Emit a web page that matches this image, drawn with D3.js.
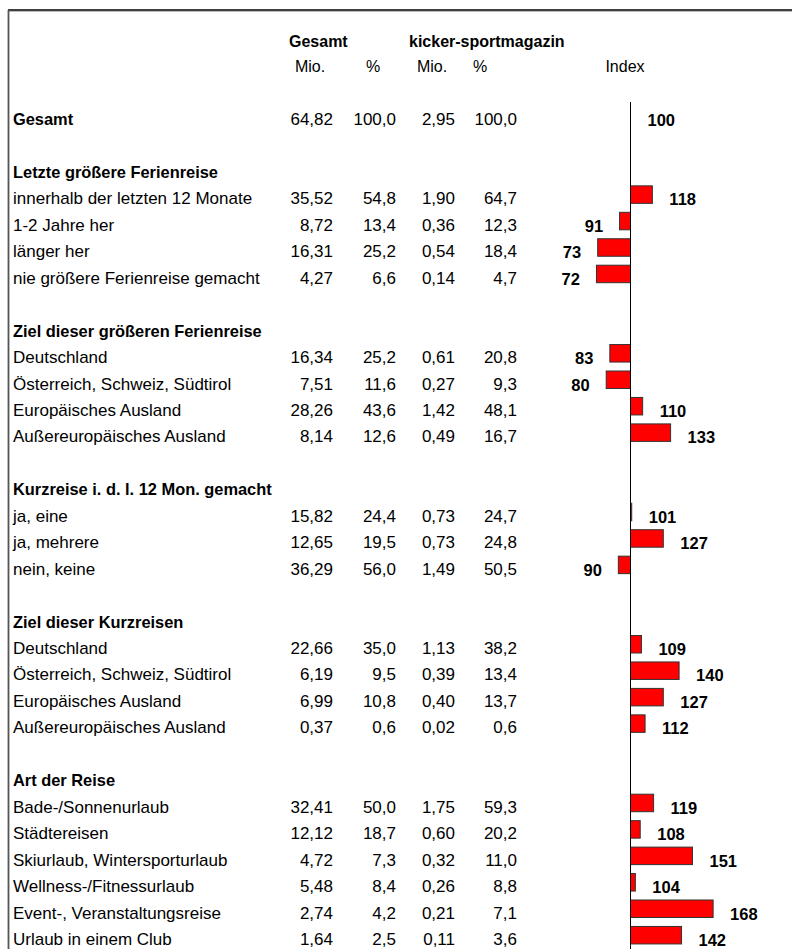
<!DOCTYPE html>
<html>
<head>
<meta charset="utf-8">
<script src="https://cdn.jsdelivr.net/npm/d3@7"></script>
<style>
  body { margin: 0; background: #fff; }
  text { font-family: "Liberation Sans", Arial, sans-serif; fill: #000; }
</style>
</head>
<body>
<div id="chart"></div>
<script>
// table rows (one per data line)
const categories = [
  "Gesamt",
  "innerhalb der letzten 12 Monate", "1-2 Jahre her", "länger her", "nie größere Ferienreise gemacht",
  "Deutschland", "Österreich, Schweiz, Südtirol", "Europäisches Ausland", "Außereuropäisches Ausland",
  "ja, eine", "ja, mehrere", "nein, keine",
  "Deutschland", "Österreich, Schweiz, Südtirol", "Europäisches Ausland", "Außereuropäisches Ausland",
  "Bade-/Sonnenurlaub", "Städtereisen", "Skiurlaub, Wintersporturlaub", "Wellness-/Fitnessurlaub",
  "Event-, Veranstaltungsreise", "Urlaub in einem Club"
];
const groupOf = [0, 1,1,1,1, 2,2,2,2, 3,3,3, 4,4,4,4, 5,5,5,5,5,5];
const groupTitles = [null, "Letzte größere Ferienreise", "Ziel dieser größeren Ferienreise",
  "Kurzreise i. d. l. 12 Mon. gemacht", "Ziel dieser Kurzreisen", "Art der Reise"];

const gesamtMio = [64.82, 35.52, 8.72, 16.31, 4.27, 16.34, 7.51, 28.26, 8.14, 15.82, 12.65, 36.29,
  22.66, 6.19, 6.99, 0.37, 32.41, 12.12, 4.72, 5.48, 2.74, 1.64];
const gesamtPct = [100.0, 54.8, 13.4, 25.2, 6.6, 25.2, 11.6, 43.6, 12.6, 24.4, 19.5, 56.0,
  35.0, 9.5, 10.8, 0.6, 50.0, 18.7, 7.3, 8.4, 4.2, 2.5];
const kickerMio = [2.95, 1.90, 0.36, 0.54, 0.14, 0.61, 0.27, 1.42, 0.49, 0.73, 0.73, 1.49,
  1.13, 0.39, 0.40, 0.02, 1.75, 0.60, 0.32, 0.26, 0.21, 0.11];
const kickerPct = [100.0, 64.7, 12.3, 18.4, 4.7, 20.8, 9.3, 48.1, 16.7, 24.7, 24.8, 50.5,
  38.2, 13.4, 13.7, 0.6, 59.3, 20.2, 11.0, 8.8, 7.1, 3.6];
const indexValues = [100, 118, 91, 73, 72, 83, 80, 110, 133, 101, 127, 90,
  109, 140, 127, 112, 119, 108, 151, 104, 168, 142];

const width = 792, height = 949;
const rowPitch = 26.45;
const firstRow = 125;   // baseline of the "Gesamt" row

const de = d3.formatLocale({decimal: ",", thousands: ".", grouping: [3], currency: ["", "€"]});
const f2 = de.format(".2f"), f1 = de.format(".1f");

// lay out rows: blank + heading before each group
let rows = [];
let lastGroup = 0;
categories.forEach(function(c, i){
  if (groupOf[i] != lastGroup) {
    rows.push({type: "blank"});
    rows.push({type: "head", label: groupTitles[groupOf[i]]});
    lastGroup = groupOf[i];
  }
  rows.push({type: i == 0 ? "head" : "item", label: c, i: i});
});

const yScale = d3.scaleLinear().domain([0, 1]).range([firstRow, firstRow + rowPitch]);
const xIndex = d3.scaleLinear().domain([100, 170]).range([630.5, 630.5 + 70 * 1.215]);

const svg = d3.select("#chart").append("svg")
  .attr("width", width)
  .attr("height", height);

// frame
svg.append("line").attr("x1", 8).attr("x2", width).attr("y1", 10).attr("y2", 10)
  .attr("stroke", "#000").attr("stroke-width", 1.6);
svg.append("line").attr("x1", 8).attr("x2", width).attr("y1", 11.5).attr("y2", 11.5)
  .attr("stroke", "#bbb").attr("stroke-width", 1);
svg.append("line").attr("x1", 8.5).attr("x2", 8.5).attr("y1", 10).attr("y2", height)
  .attr("stroke", "#555").attr("stroke-width", 1.8);

// column headers
const colRight = [333, 396, 455, 517];
svg.append("text").text("Gesamt").attr("x", 289).attr("y", 47)
  .attr("font-size", "16px").attr("font-weight", "bold");
svg.append("text").text("kicker-sportmagazin").attr("x", 409).attr("y", 47)
  .attr("font-size", "16px").attr("font-weight", "bold");
const subHeads = [["Mio.", 310], ["%", 373], ["Mio.", 432], ["%", 480], ["Index", 625]];
svg.selectAll(".subhead").data(subHeads).enter().append("text")
  .attr("class", "subhead")
  .text(d => d[0])
  .attr("x", d => d[1])
  .attr("y", 72)
  .attr("font-size", "16px")
  .attr("text-anchor", "middle");

// row labels
const rowG = svg.selectAll(".row").data(rows).enter().append("g")
  .attr("class", "row")
  .attr("transform", (d, k) => "translate(0," + yScale(k) + ")");

rowG.filter(d => d.type != "blank").append("text")
  .text(d => d.label)
  .attr("x", 13)
  .attr("font-size", d => d.type == "head" ? "16.4px" : "17px")
  .attr("font-weight", d => d.type == "head" ? "bold" : "normal");

const dataRows = rowG.filter(d => d.i !== undefined);
const cols = [
  d => f2(gesamtMio[d.i]), d => f1(gesamtPct[d.i]),
  d => f2(kickerMio[d.i]), d => f1(kickerPct[d.i])
];
cols.forEach(function(fn, c){
  dataRows.append("text")
    .text(fn)
    .attr("x", colRight[c])
    .attr("font-size", "17px")
    .attr("text-anchor", "end");
});

// index bars
svg.append("line")
  .attr("x1", xIndex(100)).attr("x2", xIndex(100))
  .attr("y1", 102).attr("y2", height)
  .attr("stroke", "#000").attr("stroke-width", 1);

dataRows.filter(d => indexValues[d.i] != 100).append("rect")
  .attr("x", d => Math.min(xIndex(100), xIndex(indexValues[d.i])))
  .attr("y", -18.5)
  .attr("width", d => Math.max(1, Math.abs(xIndex(indexValues[d.i]) - xIndex(100))))
  .attr("height", 17.5)
  .attr("fill", "#ff0000")
  .attr("stroke", "#333")
  .attr("stroke-width", 1);

dataRows.append("text")
  .text(d => indexValues[d.i])
  .attr("x", function(d){
    let v = indexValues[d.i];
    return v >= 100 ? xIndex(Math.max(v, 100)) + 17 : xIndex(v) - 16.5;
  })
  .attr("y", 1)
  .attr("font-size", "16.5px")
  .attr("font-weight", "bold")
  .attr("text-anchor", d => indexValues[d.i] >= 100 ? "start" : "end");
</script>
</body>
</html>
